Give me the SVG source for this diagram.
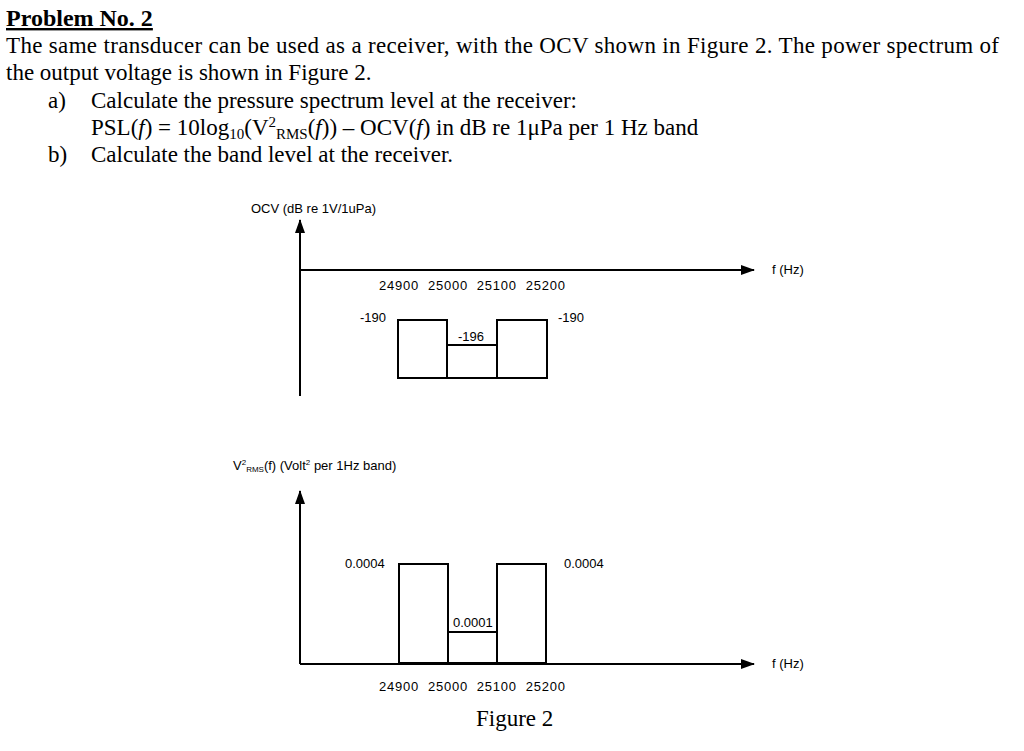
<svg xmlns="http://www.w3.org/2000/svg" width="1024" height="751" viewBox="0 0 1024 751">
<style>
.s{font-family:"Liberation Serif",serif;font-size:23px;fill:#000}
.a{font-family:"Liberation Sans",Arial,sans-serif;font-size:13px;fill:#000}
.l{stroke:#000;stroke-width:2;fill:none}
</style>
<defs><marker id="ar" markerWidth="14" markerHeight="10" refX="13" refY="5" orient="auto" markerUnits="userSpaceOnUse"><path d="M0,0L14,5L0,10Z" fill="#000"/></marker></defs>
<rect width="1024" height="751" fill="#fff"/>
<text x="6" y="26" class="s" style="font-weight:bold;font-size:24px;text-decoration:underline">Problem No. 2</text>
<text x="6" y="53" class="s" textLength="993">The same transducer can be used as a receiver, with the OCV shown in Figure 2.  The power spectrum of</text>
<text x="6" y="80" class="s">the output voltage is shown in Figure 2.</text>
<text x="48" y="108" class="s">a)</text>
<text x="91" y="108" class="s">Calculate the pressure spectrum level at the receiver:</text>
<text x="91" y="135" class="s">PSL(<tspan font-style="italic">f</tspan>) = 10log<tspan font-size="15" dy="4">10</tspan><tspan dy="-4">(V</tspan><tspan font-size="15" dy="-8">2</tspan><tspan font-size="15" dy="12">RMS</tspan><tspan dy="-4">(</tspan><tspan font-style="italic">f</tspan>)) – OCV(<tspan font-style="italic">f</tspan>) in dB re 1μPa per 1 Hz band</text>
<text x="48" y="162" class="s">b)</text>
<text x="91" y="162" class="s">Calculate the band level at the receiver.</text>
<g id="fig1">
<text x="251" y="213" class="a">OCV (dB re 1V/1uPa)</text>
<line x1="300" y1="396" x2="300" y2="220" class="l" marker-end="url(#ar)"/>
<line x1="300" y1="270" x2="754" y2="270" class="l" marker-end="url(#ar)"/>
<text x="772" y="274" class="a">f (Hz)</text>
<text x="379" y="290" class="a" xml:space="preserve" textLength="186">24900  25000  25100  25200</text>
<path d="M398,378V320H447V378ZM447,345H497V378M497,378V320H547V378H398" class="l"/>
<text x="360" y="322" class="a">-190</text>
<text x="558" y="322" class="a">-190</text>
<text x="458" y="341" class="a">-196</text>
</g>
<g id="fig2">
<text x="233" y="470" class="a">V<tspan font-size="8" dy="-5">2</tspan><tspan font-size="8" dy="7">RMS</tspan><tspan dy="-2">(f) (Volt</tspan><tspan font-size="8" dy="-5">2</tspan><tspan dy="5"> per 1Hz band)</tspan></text>
<line x1="300" y1="664" x2="300" y2="491" class="l" marker-end="url(#ar)"/>
<line x1="300" y1="664" x2="754" y2="664" class="l" marker-end="url(#ar)"/>
<text x="772" y="668" class="a">f (Hz)</text>
<path d="M399,663V564H448V663ZM448,632H497V663M497,663V564H546V663H399" class="l"/>
<text x="345" y="568" class="a">0.0004</text>
<text x="564" y="568" class="a">0.0004</text>
<text x="453" y="627" class="a">0.0001</text>
<text x="379" y="691" class="a" xml:space="preserve" textLength="186">24900  25000  25100  25200</text>
<text x="476" y="726" class="s">Figure 2</text>
</g>
</svg>
